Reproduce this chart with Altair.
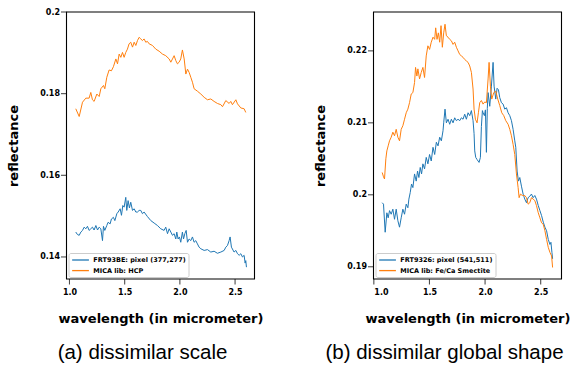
import altair as alt
import pandas as pd

# ---------------- Panel (a) ----------------
a_blue_wl = [1.057, 1.072, 1.088, 1.103, 1.118, 1.133, 1.148, 1.163, 1.178, 1.193, 1.208, 1.223, 1.239, 1.254,
             1.269, 1.284, 1.299, 1.308, 1.320, 1.338, 1.350, 1.368, 1.380, 1.398, 1.411, 1.429, 1.441, 1.459,
             1.471, 1.483, 1.495, 1.510, 1.519, 1.531, 1.543, 1.555, 1.571, 1.586, 1.601, 1.616, 1.631, 1.646,
             1.661, 1.676, 1.706, 1.737, 1.767, 1.797, 1.827, 1.857, 1.872, 1.888, 1.903, 1.918, 1.933, 1.948,
             1.963, 1.972, 1.984, 1.996, 2.008, 2.023, 2.033, 2.045, 2.057, 2.069, 2.084, 2.099, 2.114, 2.129,
             2.144, 2.159, 2.174, 2.190, 2.220, 2.250, 2.280, 2.310, 2.340, 2.371, 2.401, 2.416, 2.431, 2.446,
             2.455, 2.467, 2.491, 2.507, 2.522, 2.537, 2.552, 2.567, 2.582, 2.591, 2.597, 2.603]
a_blue_r = [0.1461, 0.1455, 0.1453, 0.1461, 0.1465, 0.1473, 0.1469, 0.1475, 0.1465, 0.1469, 0.1473, 0.1466,
            0.1477, 0.1466, 0.1473, 0.1469, 0.1440, 0.1475, 0.1465, 0.1477, 0.1485, 0.1481, 0.1493, 0.1497,
            0.1489, 0.1506, 0.1510, 0.1518, 0.1502, 0.1526, 0.1522, 0.1546, 0.1514, 0.1538, 0.1520, 0.1534,
            0.1514, 0.1518, 0.1510, 0.1510, 0.1514, 0.1514, 0.1506, 0.1510, 0.1499, 0.1489, 0.1483, 0.1477,
            0.1469, 0.1465, 0.1473, 0.1457, 0.1469, 0.1461, 0.1453, 0.1457, 0.1444, 0.1461, 0.1444, 0.1449,
            0.1436, 0.1461, 0.1444, 0.1457, 0.1465, 0.1436, 0.1444, 0.1440, 0.1449, 0.1436, 0.1440, 0.1432,
            0.1424, 0.1420, 0.1416, 0.1418, 0.1412, 0.1414, 0.1409, 0.1412, 0.1416, 0.1424, 0.1428, 0.1440,
            0.1449, 0.1424, 0.1412, 0.1416, 0.1408, 0.1404, 0.1408, 0.1400, 0.1404, 0.1385, 0.1391, 0.1375]

a_orange_wl = [1.057, 1.088, 1.118, 1.148, 1.178, 1.193, 1.208, 1.223, 1.248, 1.269, 1.284, 1.308, 1.320,
               1.338, 1.359, 1.380, 1.398, 1.420, 1.435, 1.450, 1.465, 1.480, 1.495, 1.510, 1.525, 1.540,
               1.555, 1.571, 1.586, 1.601, 1.616, 1.631, 1.646, 1.661, 1.676, 1.691, 1.706, 1.722, 1.752,
               1.782, 1.812, 1.842, 1.872, 1.903, 1.918, 1.933, 1.948, 1.963, 1.978, 1.993, 2.008, 2.023,
               2.039, 2.054, 2.069, 2.084, 2.099, 2.114, 2.129, 2.159, 2.190, 2.220, 2.250, 2.280, 2.310,
               2.340, 2.371, 2.386, 2.416, 2.446, 2.461, 2.476, 2.507, 2.522, 2.552, 2.582, 2.597]
a_orange_r = [0.1763, 0.1744, 0.1779, 0.1789, 0.1789, 0.1803, 0.1785, 0.1781, 0.1799, 0.1793, 0.1812, 0.1820,
              0.1812, 0.1840, 0.1858, 0.1856, 0.1866, 0.1885, 0.1873, 0.1897, 0.1889, 0.1901, 0.1889, 0.1901,
              0.1909, 0.1922, 0.1926, 0.1914, 0.1926, 0.1918, 0.1930, 0.1938, 0.1934, 0.1930, 0.1934, 0.1926,
              0.1928, 0.1922, 0.1918, 0.1909, 0.1904, 0.1897, 0.1893, 0.1885, 0.1877, 0.1885, 0.1893, 0.1881,
              0.1873, 0.1877, 0.1885, 0.1907, 0.1885, 0.1848, 0.1860, 0.1852, 0.1840, 0.1828, 0.1812, 0.1806,
              0.1799, 0.1791, 0.1785, 0.1787, 0.1781, 0.1776, 0.1773, 0.1768, 0.1783, 0.1776, 0.1781, 0.1773,
              0.1785, 0.1775, 0.1765, 0.1763, 0.1754]

# ---------------- Panel (b) ----------------
b_blue_wl = [1.075, 1.087, 1.102, 1.117, 1.129, 1.141, 1.156, 1.171, 1.186, 1.201, 1.216, 1.231, 1.246, 1.261,
             1.276, 1.291, 1.306, 1.315, 1.327, 1.339, 1.351, 1.366, 1.381, 1.393, 1.405, 1.417, 1.429, 1.441,
             1.456, 1.471, 1.486, 1.501, 1.516, 1.532, 1.547, 1.562, 1.577, 1.592, 1.607, 1.622, 1.628, 1.640,
             1.652, 1.667, 1.682, 1.697, 1.712, 1.727, 1.742, 1.757, 1.772, 1.787, 1.802, 1.817, 1.832, 1.847,
             1.862, 1.877, 1.892, 1.901, 1.907, 1.916, 1.928, 1.946, 1.958, 1.967, 1.976, 1.982, 1.994, 2.003,
             2.012, 2.020, 2.027, 2.042, 2.057, 2.072, 2.081, 2.096, 2.108, 2.120, 2.132, 2.147, 2.162, 2.177,
             2.192, 2.207, 2.222, 2.237, 2.252, 2.267, 2.276, 2.288, 2.300, 2.312, 2.327, 2.342, 2.357, 2.372,
             2.387, 2.402, 2.417, 2.432, 2.447, 2.462, 2.478, 2.493, 2.508, 2.523, 2.538, 2.553, 2.568, 2.583,
             2.592, 2.601, 2.607]
b_blue_r = [0.1989, 0.1987, 0.1948, 0.1975, 0.1968, 0.1978, 0.1973, 0.1980, 0.1966, 0.1980, 0.1964, 0.1955,
            0.1968, 0.1980, 0.1973, 0.1987, 0.1982, 0.1994, 0.2003, 0.2015, 0.2010, 0.2029, 0.2019, 0.2033,
            0.2024, 0.2038, 0.2029, 0.2043, 0.2036, 0.2052, 0.2043, 0.2056, 0.2047, 0.2066, 0.2056, 0.2073,
            0.2068, 0.2080, 0.2075, 0.2089, 0.2100, 0.2119, 0.2100, 0.2105, 0.2098, 0.2105, 0.2100, 0.2107,
            0.2103, 0.2105, 0.2103, 0.2107, 0.2105, 0.2112, 0.2105, 0.2114, 0.2110, 0.2117, 0.2103, 0.2085,
            0.2061, 0.2052, 0.2049, 0.2045, 0.2052, 0.2095, 0.2117, 0.2114, 0.2110, 0.2118, 0.2059, 0.2120,
            0.2142, 0.2123, 0.2151, 0.2184, 0.2151, 0.2133, 0.2148, 0.2146, 0.2135, 0.2128, 0.2126, 0.2119,
            0.2121, 0.2114, 0.2110, 0.2103, 0.2091, 0.2075, 0.2066, 0.2033, 0.2019, 0.2024, 0.2012, 0.2001,
            0.1994, 0.1989, 0.1996, 0.1998, 0.2001, 0.1996, 0.1999, 0.1994, 0.1985, 0.1978, 0.1971, 0.1962,
            0.1955, 0.1950, 0.1938, 0.1931, 0.1934, 0.1920, 0.1911]

b_orange_wl = [1.075, 1.087, 1.096, 1.108, 1.117, 1.129, 1.141, 1.156, 1.171, 1.186, 1.201, 1.216, 1.231,
               1.246, 1.261, 1.276, 1.291, 1.306, 1.321, 1.336, 1.351, 1.366, 1.375, 1.387, 1.396, 1.411,
               1.426, 1.441, 1.456, 1.471, 1.486, 1.501, 1.516, 1.532, 1.547, 1.556, 1.568, 1.580, 1.592,
               1.604, 1.616, 1.628, 1.640, 1.652, 1.667, 1.682, 1.697, 1.712, 1.727, 1.742, 1.757, 1.772,
               1.787, 1.802, 1.817, 1.832, 1.847, 1.862, 1.877, 1.892, 1.901, 1.913, 1.928, 1.940, 1.952,
               1.967, 1.982, 1.997, 2.012, 2.027, 2.036, 2.048, 2.060, 2.078, 2.096, 2.114, 2.132, 2.150,
               2.168, 2.186, 2.207, 2.222, 2.237, 2.252, 2.267, 2.282, 2.297, 2.306, 2.318, 2.336, 2.357,
               2.372, 2.387, 2.402, 2.417, 2.432, 2.447, 2.462, 2.478, 2.493, 2.508, 2.523, 2.538, 2.553,
               2.568, 2.583, 2.598, 2.607]
b_orange_r = [0.2031, 0.2025, 0.2022, 0.2050, 0.2061, 0.2068, 0.2075, 0.2080, 0.2087, 0.2082, 0.2091, 0.2080,
              0.2075, 0.2091, 0.2096, 0.2105, 0.2114, 0.2119, 0.2128, 0.2140, 0.2142, 0.2156, 0.2177, 0.2165,
              0.2175, 0.2161, 0.2170, 0.2177, 0.2163, 0.2193, 0.2207, 0.2202, 0.2212, 0.2219, 0.2216, 0.2232,
              0.2216, 0.2225, 0.2212, 0.2235, 0.2205, 0.2225, 0.2237, 0.2221, 0.2219, 0.2216, 0.2214, 0.2209,
              0.2212, 0.2205, 0.2200, 0.2195, 0.2193, 0.2191, 0.2188, 0.2186, 0.2184, 0.2179, 0.2170, 0.2147,
              0.2119, 0.2105, 0.2100, 0.2114, 0.2128, 0.2131, 0.2126, 0.2129, 0.2128, 0.2161, 0.2184, 0.2151,
              0.2133, 0.2142, 0.2144, 0.2133, 0.2124, 0.2114, 0.2110, 0.2103, 0.2098, 0.2091, 0.2082, 0.2070,
              0.2056, 0.2029, 0.2010, 0.1996, 0.2001, 0.1999, 0.1999, 0.1996, 0.1987, 0.1989, 0.1996, 0.1994,
              0.1992, 0.1985, 0.1975, 0.1968, 0.1961, 0.1959, 0.1950, 0.1938, 0.1927, 0.1920, 0.1915, 0.1899]

x_ticks = [1.0, 1.5, 2.0, 2.5]
a_y_ticks = [0.14, 0.16, 0.18, 0.2]
b_y_ticks = [0.19, 0.2, 0.21, 0.22]
a_labels = ["FRT93BE: pixel (377,277)", "MICA lib: HCP"]
b_labels = ["FRT9326: pixel (541,511)", "MICA lib: Fe/Ca Smectite"]
colors = ["#1f77b4", "#ff7f0e"]

PW, PH = 188, 267
TICK = 5.5


def panel(bw, br, ow, orr, labels, xdom, ydom, yticks, caption, cap_dx):
    df = pd.DataFrame({
        "wl": bw + ow,
        "r": br + orr,
        "s": [labels[0]] * len(bw) + [labels[1]] * len(ow),
    })
    xs = alt.Scale(domain=xdom, nice=False, zero=False)
    ys = alt.Scale(domain=ydom, nice=False, zero=False)
    # one axis definition shared by every layer, so the merged axis keeps its labels and titles
    xax = alt.Axis(values=x_ticks, format=".1f", title="wavelength (in micrometer)",
                   titleX=PW / 2, titleY=39.5, titleBaseline="middle", labelPadding=9)
    yax = alt.Axis(values=yticks, format="~g", title="reflectance",
                   titleX=-53, titleY=PH / 2, titleBaseline="middle", titleAngle=270, labelPadding=7)
    lines = alt.Chart(df).mark_line(strokeWidth=1).encode(
        x=alt.X("wl:Q", scale=xs, axis=xax),
        y=alt.Y("r:Q", scale=ys, axis=yax),
        color=alt.Color("s:N", scale=alt.Scale(domain=labels, range=colors),
                        legend=alt.Legend(title=None, orient="bottom-left", offset=2)),
    )
    # plot frame (spines) spanning the full axis domains
    frame = alt.Chart(pd.DataFrame({"x0": [xdom[0]], "x1": [xdom[1]],
                                    "y0": [ydom[0]], "y1": [ydom[1]]})).mark_rect(
        fillOpacity=0, stroke="black", strokeWidth=1.1
    ).encode(x=alt.X("x0:Q", scale=xs, axis=xax), x2="x1:Q",
             y=alt.Y("y0:Q", scale=ys, axis=yax), y2="y1:Q")
    # outward tick marks at the tick values
    xt = alt.Chart(pd.DataFrame({"v": x_ticks})).mark_tick(
        orient="vertical", size=TICK, thickness=1.1, color="black"
    ).encode(x=alt.X("v:Q", scale=xs, axis=xax), y=alt.value(PH + TICK / 2))
    yt = alt.Chart(pd.DataFrame({"v": yticks})).mark_tick(
        orient="horizontal", size=TICK, thickness=1.1, color="black"
    ).encode(y=alt.Y("v:Q", scale=ys, axis=yax), x=alt.value(-TICK / 2))
    return alt.layer(lines, frame, xt, yt).properties(
        width=PW, height=PH,
        title=alt.Title(caption, orient="bottom", anchor="middle", dx=cap_dx, offset=17,
                        fontSize=20.5, font="Liberation Sans", fontWeight="normal", color="black"),
    )


pa = panel(a_blue_wl, a_blue_r, a_orange_wl, a_orange_r, a_labels,
           [0.973, 2.676], [0.1346, 0.2], a_y_ticks, "(a) dissimilar scale", -18)
pb = panel(b_blue_wl, b_blue_r, b_orange_wl, b_orange_r, b_labels,
           [0.997, 2.687], [0.1883, 0.2254], b_y_ticks, "(b) dissimilar global shape", -23)

chart = alt.hconcat(pa, pb, spacing=119, bounds="flush").resolve_scale(
    color="independent").resolve_legend(color="independent").properties(
    padding={"left": 7.5, "top": 8, "right": 0, "bottom": 0}
).configure(
    background="white"
).configure_view(
    stroke=None
).configure_axis(
    grid=False, domain=False, ticks=False, tickSize=TICK,
    labelFont="DejaVu Sans", labelFontWeight="bold", labelFontSize=8, labelColor="black",
    titleFont="DejaVu Sans", titleFontWeight="bold", titleFontSize=13, titleColor="black",
).configure_legend(
    labelFont="DejaVu Sans", labelFontWeight="bold", labelFontSize=6.5, labelColor="black",
    symbolType="M-1,0H4", symbolSize=45, symbolStrokeWidth=1.3, labelOffset=13.3,
    padding=2.5, rowPadding=2.6, strokeColor="#cccccc", fillColor="white", cornerRadius=2,
)

chart.save("out.html", embed_options={"renderer": "svg", "actions": False})
